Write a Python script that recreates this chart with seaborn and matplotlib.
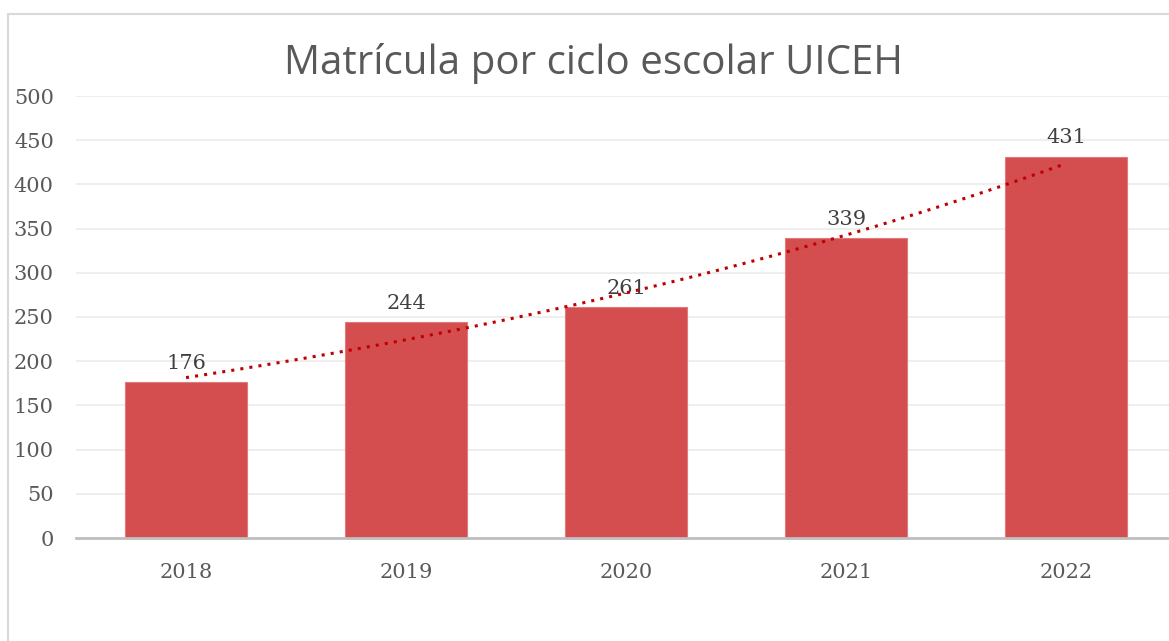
import numpy as np
import pandas as pd
import seaborn as sns
import matplotlib.pyplot as plt
from matplotlib.patches import Rectangle

# ------------------------------ dados do gráfico ------------------------------ #
ciclos = ['2018', '2019', '2020', '2021', '2022']
matricula = [176, 244, 261, 339, 431]
titulo = 'Matrícula por ciclo escolar UICEH'

df = pd.DataFrame({'ciclo': ciclos, 'matricula': matricula})

sns.set_style('white')
plt.rcParams['font.family'] = ['DejaVu Serif']

fig = plt.figure(figsize=(11.69, 6.41), dpi=100)
ax = fig.add_axes([76 / 1169, 103 / 641, 1100 / 1169, 442 / 641])

# borda do gráfico (estilo Excel)
fig.patches.append(Rectangle((8 / 1169, -0.1), 1.2, 1 - 14 / 641 + 0.1,
                             transform=fig.transFigure, fill=False,
                             edgecolor='#D9D9D9', linewidth=1.5))

sns.barplot(data=df, x='ciclo', y='matricula', color='#D44D4F',
            saturation=1, width=0.555, edgecolor='#E07A7C', linewidth=0.8, ax=ax)

# linha de tendência exponencial
xs = np.arange(len(matricula))
b, a = np.polyfit(xs, np.log(matricula), 1)
xt = np.linspace(0, len(matricula) - 1, 100)
ax.plot(xt, np.exp(a + b * xt), color='#C00000', linestyle=(0, (1, 2)),
        linewidth=2.2, zorder=5)

# rótulos de valores
for i, v in enumerate(matricula):
    ax.text(i, v + 11, str(v), ha='center', va='bottom', fontsize=15,
            color='#404040')

ax.set_ylim(0, 500)
ax.set_xlim(-0.5, len(ciclos) - 0.5)
ax.set_yticks(range(0, 501, 50))
ax.yaxis.grid(True, color='#EBEBEB', linewidth=1.2)
ax.set_axisbelow(True)
for s in ['top', 'right', 'left']:
    ax.spines[s].set_visible(False)
ax.spines['bottom'].set_color('#BFBFBF')
ax.spines['bottom'].set_linewidth(2)
ax.tick_params(axis='both', length=0, labelsize=15, labelcolor='#595959')
ax.tick_params(axis='y', pad=16)
ax.tick_params(axis='x', pad=18)
for lbl in ax.get_yticklabels():
    lbl.set_horizontalalignment('right')
ax.set_xlabel('')
ax.set_ylabel('')

fig.text(593 / 1169, 1 - 64 / 641, titulo, ha='center', va='center',
         fontsize=29, color='#595959', family=['Open Sans', 'DejaVu Sans'])

fig.savefig('out.png', dpi=100)
